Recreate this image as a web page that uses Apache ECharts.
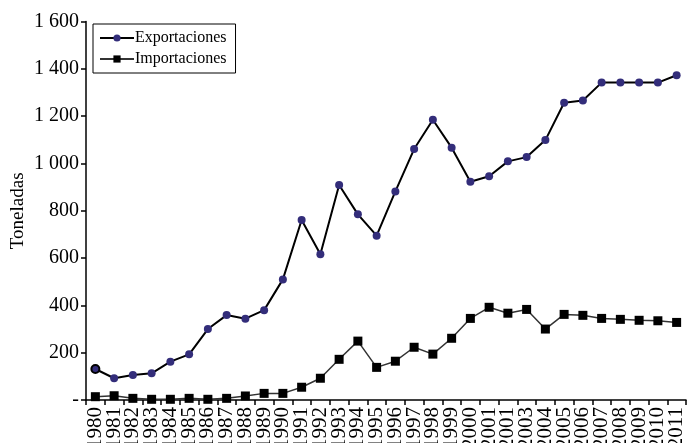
<!DOCTYPE html>
<html>
<head>
<meta charset="utf-8">
<script src="https://cdn.jsdelivr.net/npm/echarts@6/dist/echarts.min.js"></script>
<style>
  html, body { margin: 0; padding: 0; background: #fff; }
</style>
</head>
<body>
<!-- contenedor del gráfico -->
<div id="container" style="width: 695px; height: 443px"></div>

<script>
// años (categorías)
const years = ['1980', '1981', '1982', '1983', '1984', '1985', '1986', '1987', '1988', '1989',
  '1990', '1991', '1992', '1993', '1994', '1995', '1996', '1997', '1998', '1999',
  '2000', '2001', '2002', '2003', '2004', '2005', '2006', '2007', '2008', '2009', '2010', '2011']
// etiquetas tal como aparecen en el original (2001 repetido)
const yearLabels = ['1980', '1981', '1982', '1983', '1984', '1985', '1986', '1987', '1988', '1989',
  '1990', '1991', '1992', '1993', '1994', '1995', '1996', '1997', '1998', '1999',
  '2000', '2001', '2001', '2003', '2004', '2005', '2006', '2007', '2008', '2009', '2010', '2011']

// toneladas
const exportaciones = [131, 92, 106, 113, 162, 193, 300, 359, 344, 380,
  510, 761, 616, 909, 785, 695, 882, 1061, 1185, 1067,
  923, 946, 1009, 1027, 1099, 1257, 1266, 1342, 1342, 1342, 1342, 1373]
const importaciones = [14, 18, 7, 3, 3, 7, 3, 7, 17, 28,
  28, 54, 92, 172, 249, 138, 164, 223, 194, 261,
  345, 392, 367, 383, 300, 362, 358, 345, 341, 337, 335, 328]

const yTicks = [0, 200, 400, 600, 800, 1000, 1200, 1400, 1600]

const font = '"Liberation Serif", "DejaVu Serif", serif'

function fmtY(v) {
  if (v === 0) return '-'
  const s = String(v)
  return s.length > 3 ? s.slice(0, -3) + ' ' + s.slice(-3) : s
}

var myChart = echarts.init(document.getElementById('container'))

const option = {
  animation: false,
  backgroundColor: '#fff',
  grid: { left: 86, right: 9, top: 21.6, bottom: 43, containLabel: false, outerBoundsMode: 'none' },
  legend: {
    left: 93,
    top: 24,
    orient: 'vertical',
    itemGap: 5,
    itemWidth: 34,
    itemHeight: 9,
    padding: [6, 9, 6, 6],
    borderColor: '#000',
    borderWidth: 1,
    borderRadius: 0,
    textStyle: { fontFamily: font, fontSize: 16, color: '#000', padding: [0, 0, 0, -4] },
    data: ['Exportaciones', 'Importaciones']
  },
  xAxis: {
    type: 'category',
    data: years,
    boundaryGap: true,
    axisLine: { lineStyle: { color: '#000', width: 1.5 } },
    axisTick: { show: true, alignWithLabel: false, length: 5, lineStyle: { color: '#000', width: 1.5 } },
    axisLabel: {
      interval: 0,
      rotate: 90,
      margin: 7,
      fontFamily: font,
      fontSize: 21,
      color: '#000',
      formatter: (v, i) => yearLabels[i]
    }
  },
  yAxis: {
    type: 'value',
    min: yTicks[0],
    max: yTicks[yTicks.length - 1],
    interval: 200,
    name: 'Toneladas',
    nameLocation: 'middle',
    nameGap: 58,
    nameMoveOverlap: false,
    nameTextStyle: { fontFamily: font, fontSize: 19, color: '#000' },
    axisLine: { show: true, lineStyle: { color: '#000', width: 1.5 } },
    axisTick: { show: true, length: 5, lineStyle: { color: '#000', width: 1.5 } },
    splitLine: { show: false },
    axisLabel: {
      margin: 7,
      fontFamily: font,
      fontSize: 20,
      color: '#000',
      formatter: fmtY
    }
  },
  series: [
    {
      name: 'Exportaciones',
      type: 'line',
      data: exportaciones.map((v, i) => i === 0
        ? { value: v, itemStyle: { borderColor: '#000', borderWidth: 2 } }
        : v),
      symbol: 'circle',
      symbolSize: 8,
      itemStyle: { color: '#332d7a', borderWidth: 0 },
      lineStyle: { color: '#000', width: 2 },
      z: 3
    },
    {
      name: 'Importaciones',
      type: 'line',
      data: importaciones,
      symbol: 'rect',
      symbolSize: 9,
      itemStyle: { color: '#000' },
      lineStyle: { color: '#333', width: 1.5 },
      z: 2
    }
  ]
}

myChart.setOption(option)
</script>
</body>
</html>
